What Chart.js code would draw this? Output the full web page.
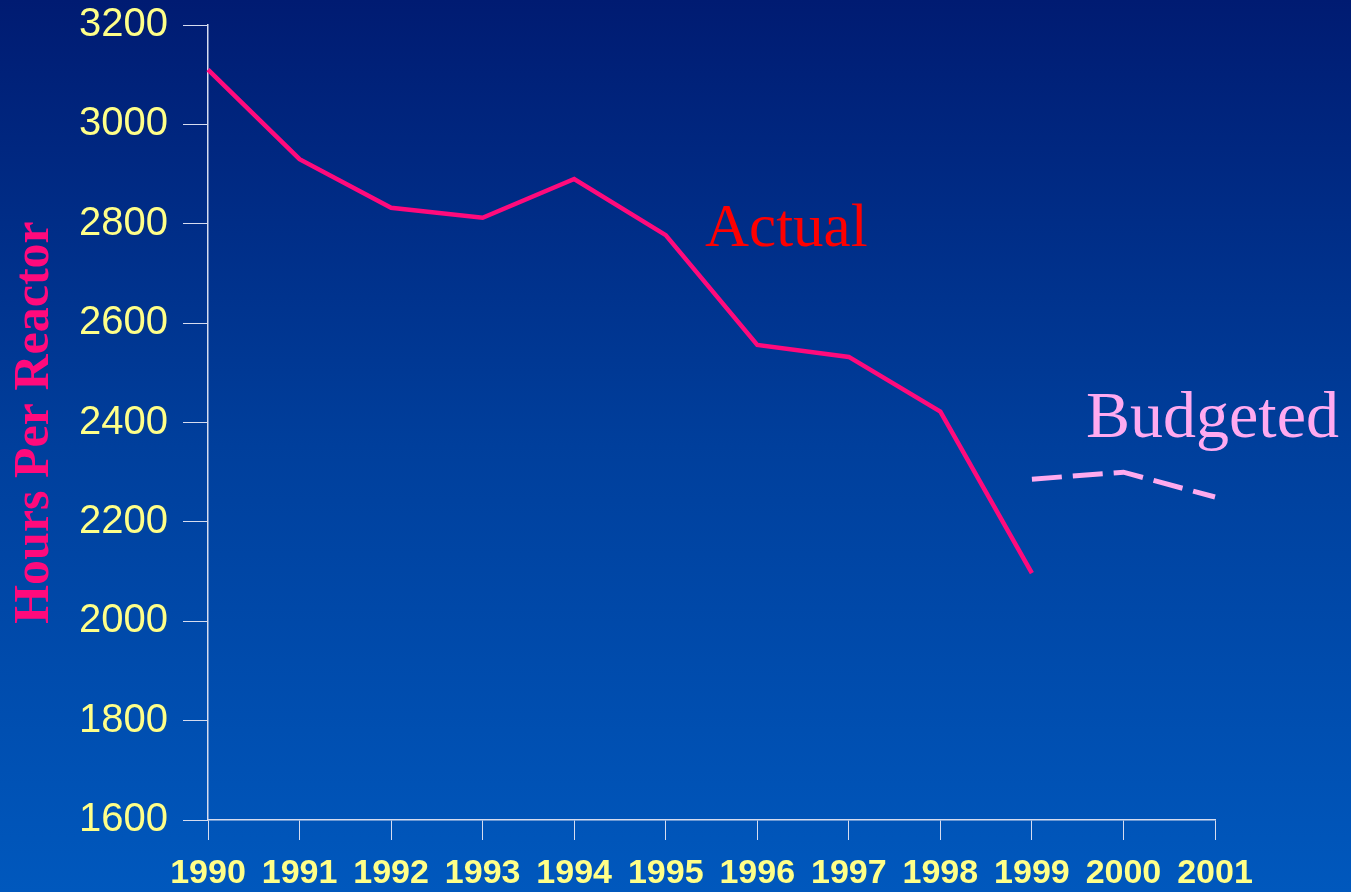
<!DOCTYPE html>
<html>
<head>
<meta charset="utf-8">
<script src="https://cdn.jsdelivr.net/npm/chart.js@4/dist/chart.umd.min.js"></script>
<style>
  html, body { margin: 0; padding: 0; }
  body {
    width: 1351px; height: 892px; overflow: hidden;
    background: linear-gradient(to bottom, #001b72 0%, #003f9c 50%, #0058bd 100%);
  }
  #wrap { position: relative; width: 1351px; height: 892px; }
</style>
</head>
<body>
<div id="wrap"><canvas id="chart" width="1351" height="892"></canvas></div>
<script>
// years on the x axis
const years = ["1990", "1991", "1992", "1993", "1994", "1995", "1996", "1997", "1998", "1999", "2000", "2001"];

// hours per reactor
const actualHours   = [3110, 2930, 2832, 2812, 2890, 2777, 2556, 2532, 2422, 2097, null, null];
const budgetedHours = [null, null, null, null, null, null, null, null, null, 2286, 2300, 2250];

const yMin = 1600;
const yMax = 3200;
const yStep = 200;

// text labels drawn on the plot
const seriesLabels = [
    { text: "Actual",   color: "#ff0000", size: 61, x: 705,  y: 246 },
    { text: "Budgeted", color: "#ffaaf0", size: 66, x: 1086, y: 437 }
];

const labelPlugin = {
    id: "seriesLabels",
    afterDatasetsDraw(chart) {
        const ctx = chart.ctx;
        ctx.save();
        ctx.textBaseline = "alphabetic";
        ctx.textAlign = "left";
        seriesLabels.forEach(l => {
            ctx.fillStyle = l.color;
            ctx.font = `${l.size}px "Liberation Serif", "Times New Roman", serif`;
            ctx.fillText(l.text, l.x, l.y);
        });
        ctx.restore();
    }
};

const axisColor = "#d6dcef";

new Chart(document.getElementById("chart").getContext("2d"), {
    type: "line",
    data: {
        labels: years,
        datasets: [{
            label: "Actual",
            data: actualHours,
            borderColor: "#ff0a7c",
            borderWidth: 4.5,
            pointRadius: 0,
            tension: 0,
            spanGaps: false
        }, {
            label: "Budgeted",
            data: budgetedHours,
            borderColor: "#ffaaee",
            borderWidth: 5,
            borderDash: [30, 11],
            pointRadius: 0,
            tension: 0
        }]
    },
    options: {
        responsive: false,
        animation: false,
        layout: { padding: { top: 25, right: 136, left: 0, bottom: 0 } },
        plugins: {
            legend: { display: false },
            tooltip: { enabled: false }
        },
        scales: {
            x: {
                offset: false,
                grid: {
                    drawOnChartArea: false,
                    color: axisColor,
                    tickLength: 20,
                    tickColor: axisColor
                },
                border: { color: axisColor, width: 1.5 },
                ticks: {
                    color: "#ffff88",
                    padding: 13,
                    maxRotation: 0,
                    autoSkip: false,
                    font: { family: "'Liberation Sans', Arial, sans-serif", size: 34, weight: "bold" }
                },
                afterFit(scale) {
                    scale.height = 72;
                    scale.paddingLeft = 0;
                    scale.paddingRight = 0;
                }
            },
            y: {
                min: yMin,
                max: yMax,
                grid: {
                    drawOnChartArea: false,
                    color: axisColor,
                    tickLength: 25,
                    tickColor: axisColor
                },
                border: { color: axisColor, width: 1.5 },
                ticks: {
                    stepSize: yStep,
                    color: "#ffff88",
                    padding: 15,
                    callback: v => String(v),
                    font: { family: "'Liberation Sans', Arial, sans-serif", size: 40 }
                },
                title: {
                    display: true,
                    text: "Hours Per Reactor",
                    color: "#ff0a7c",
                    padding: { top: 10, bottom: 0 },
                    font: { family: "'Liberation Serif', 'Times New Roman', serif", size: 50, weight: "bold", lineHeight: 1 }
                },
                afterFit(scale) {
                    scale.width = 208;
                    scale.paddingTop = 0;
                    scale.paddingBottom = 0;
                }
            }
        }
    },
    plugins: [labelPlugin]
});
</script>
</body>
</html>
